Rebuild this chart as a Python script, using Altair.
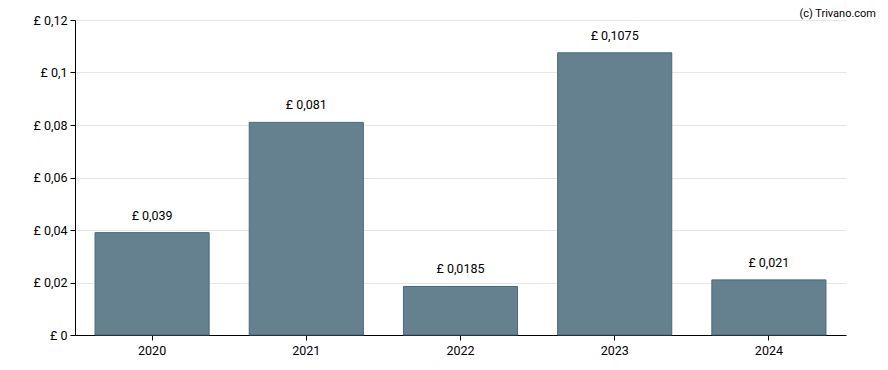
import altair as alt
import pandas as pd

years = ["2020", "2021", "2022", "2023", "2024"]
values = [0.039, 0.081, 0.0185, 0.1075, 0.021]
y_ticks = [0, 0.02, 0.04, 0.06, 0.08, 0.1, 0.12]
credit = "(c) Trivano.com"

df = pd.DataFrame({"year": years, "value": values})
df["label"] = ["£ " + str(v).replace(".", ",") for v in values]

FONT = "Roboto"
FS = 12.5

base = alt.Chart(df).encode(
    x=alt.X("year:N", title=None,
            scale=alt.Scale(paddingInner=0.26, paddingOuter=0.13),
            axis=alt.Axis(labelAngle=0, domainColor="black", tickColor="black",
                          tickSize=5, labelFontSize=FS, labelColor="black",
                          labelFont=FONT, labelPadding=4, grid=False)),
)

bars = base.mark_bar(color="#65818f", stroke="#4a6678", strokeWidth=1).encode(
    y=alt.Y("value:Q", title=None,
            scale=alt.Scale(domain=[0, 0.12], nice=False),
            axis=alt.Axis(values=y_ticks, domainColor="black", tickColor="black",
                          tickSize=5, labelFontSize=FS, labelColor="black",
                          labelFont=FONT, gridColor="#e6e6e6", labelPadding=3,
                          labelExpr="'£ ' + replace(format(datum.value, ''), '.', ',')")),
)

text = base.mark_text(baseline="bottom", dy=-10, fontSize=FS, font=FONT, color="black").encode(
    y="value:Q",
    text="label:N",
)

credit_mark = alt.Chart(pd.DataFrame({"t": [credit]})).mark_text(
    align="right", baseline="middle", fontSize=11, font=FONT, color="black"
).encode(x=alt.value(801), y=alt.value(-6), text="t:N")

chart = (bars + text + credit_mark).properties(
    width=771, height=315,
    padding={"left": 67, "top": 12, "right": 34, "bottom": 27},
    autosize=alt.AutoSizeParams(type="none"),
).configure_view(strokeWidth=0)

chart.save("out.html", embed_options={"renderer": "svg", "actions": False})
